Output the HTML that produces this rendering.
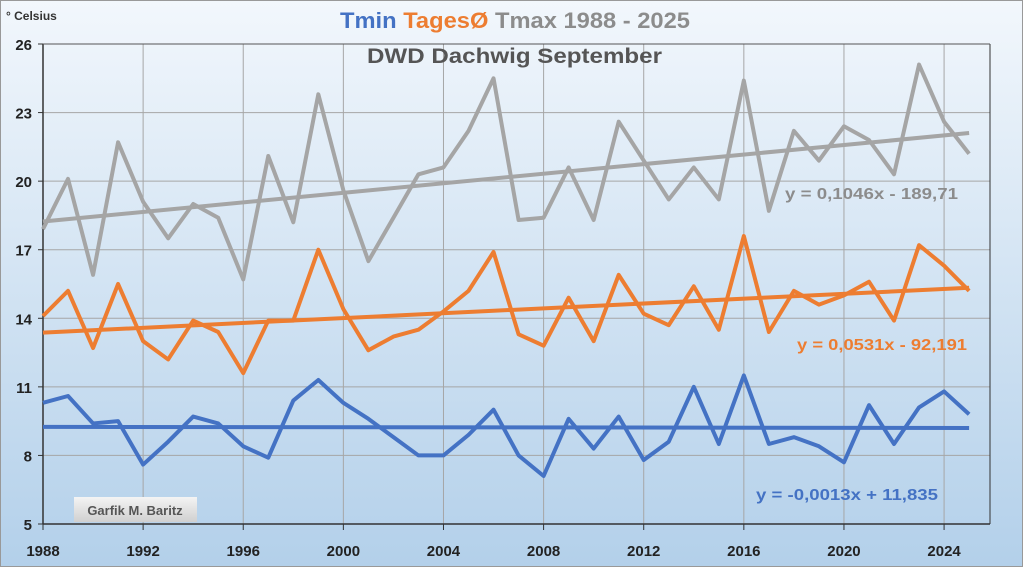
<!DOCTYPE html>
<html><head><meta charset="utf-8"><style>
body{margin:0;width:1023px;height:567px;overflow:hidden;font-family:"Liberation Sans",sans-serif}
</style></head><body>
<svg width="1023" height="567" xmlns="http://www.w3.org/2000/svg">
<defs><linearGradient id="bg" x1="0" y1="0" x2="0" y2="1"><stop offset="0" stop-color="#f2f7fc"/><stop offset="1" stop-color="#b3d0ea"/></linearGradient>
<linearGradient id="gb" x1="0" y1="0" x2="0" y2="1"><stop offset="0" stop-color="#f4f4f4"/><stop offset="1" stop-color="#d0d0d0"/></linearGradient></defs>
<rect x="0.5" y="0.5" width="1022" height="566" fill="url(#bg)" stroke="#999"/>
<g id="grid"></g>
<g id="series"></g>
<text x="6" y="20" font-size="12" font-weight="bold" fill="#333">° Celsius</text>
<text x="340" y="28" font-size="22" font-weight="bold" textLength="350" lengthAdjust="spacingAndGlyphs"><tspan fill="#4472c4">Tmin </tspan><tspan fill="#ed7d31">TagesØ </tspan><tspan fill="#8c8c8c">Tmax 1988 - 2025</tspan></text>
<text x="367" y="63" font-size="21" font-weight="bold" fill="#555" textLength="295" lengthAdjust="spacingAndGlyphs">DWD Dachwig September</text>
<text x="785" y="199" font-size="16" font-weight="bold" fill="#8c8c8c" textLength="173" lengthAdjust="spacingAndGlyphs">y = 0,1046x - 189,71</text>
<text x="797" y="350" font-size="16" font-weight="bold" fill="#ed7d31" textLength="170" lengthAdjust="spacingAndGlyphs">y = 0,0531x - 92,191</text>
<text x="756" y="500" font-size="16" font-weight="bold" fill="#4472c4" textLength="182" lengthAdjust="spacingAndGlyphs">y = -0,0013x + 11,835</text>
<rect x="74" y="497" width="123" height="25" fill="url(#gb)"/>
<text x="135" y="515" text-anchor="middle" font-size="13" font-weight="bold" fill="#555">Garfik M. Baritz</text>
</svg>
<script>
const years=[];for(let y=1988;y<=2025;y++)years.push(y);
const tmax=[17.9,20.1,15.9,21.7,19.1,17.5,19.0,18.4,15.7,21.1,18.2,23.8,19.6,16.5,18.4,20.3,20.6,22.2,24.5,18.3,18.4,20.6,18.3,22.6,20.9,19.2,20.6,19.2,24.4,18.7,22.2,20.9,22.4,21.8,20.3,25.1,22.6,21.2];
const tmean=[14.1,15.2,12.7,15.5,13.0,12.2,13.9,13.4,11.6,13.9,13.9,17.0,14.4,12.6,13.2,13.5,14.3,15.2,16.9,13.3,12.8,14.9,13.0,15.9,14.2,13.7,15.4,13.5,17.6,13.4,15.2,14.6,15.0,15.6,13.9,17.2,16.3,15.2];
const tmin=[10.3,10.6,9.4,9.5,7.6,8.6,9.7,9.4,8.4,7.9,10.4,11.3,10.3,9.6,8.8,8.0,8.0,8.9,10.0,8.0,7.1,9.6,8.3,9.7,7.8,8.6,11.0,8.5,11.5,8.5,8.8,8.4,7.7,10.2,8.5,10.1,10.8,9.8];
const trendMax=[0.1046,-189.71];
const trendMean=[0.0531,-92.191];
const trendMin=[-0.0013,11.835];
const yTicks=[5,8,11,14,17,20,23,26];
const xTicks=[1988,1992,1996,2000,2004,2008,2012,2016,2020,2024];
const NS="http://www.w3.org/2000/svg";
const X=y=>43+(y-1988)*25.03, Y=v=>524-(v-5)*22.857;
const L=990;
function mk(t,a,p){const e=document.createElementNS(NS,t);for(const k in a)e.setAttribute(k,a[k]);p.appendChild(e);return e;}
const g=document.getElementById('grid'), s=document.getElementById('series');
yTicks.forEach(v=>{
 const l=mk('line',{x1:43,x2:L,y1:Y(v),y2:Y(v),stroke:'#a6a6a6','stroke-width':1},g);
 
 
 mk('line',{x1:38,x2:43,y1:Y(v),y2:Y(v),stroke:'#333'},g);
 const t=mk('text',{x:32,y:Y(v)+6,'text-anchor':'end','font-size':15,'font-weight':'bold',fill:'#222'},g);
 t.textContent=v;
 
 
});
xTicks.forEach(yr=>{
 const l=mk('line',{x1:X(yr),x2:X(yr),y1:44,y2:524,stroke:'#a6a6a6','stroke-width':1},g);
 
 
 mk('line',{x1:X(yr),x2:X(yr),y1:524,y2:530,stroke:'#333'},g);
 const t=mk('text',{x:X(yr),y:556,'text-anchor':'middle','font-size':15,'font-weight':'bold',fill:'#222'},g);
 t.textContent=yr;
 
 
});
mk('line',{x1:43,x2:43,y1:44,y2:524,stroke:'#333','stroke-width':1.5},g);
mk('line',{x1:43,x2:L,y1:524,y2:524,stroke:'#333','stroke-width':1.5},g);
mk('line',{x1:L,x2:L,y1:44,y2:524,stroke:'#333','stroke-width':1},g);
mk('line',{x1:43,x2:L,y1:44,y2:44,stroke:'#555','stroke-width':1},g);
function series(data,col,name){
 const p=mk('polyline',{points:data.map((v,i)=>X(years[i])+','+Y(v)).join(' '),fill:'none',stroke:col,'stroke-width':4,'stroke-linejoin':'round'},s);
 
 
}
function trend(c,col,name){
 const a=years[0],b=years[years.length-1];
 const l=mk('line',{x1:X(a),y1:Y(c[0]*a+c[1]),x2:X(b),y2:Y(c[0]*b+c[1]),stroke:col,'stroke-width':4},s);
 
 
}
series(tmax,'#a5a5a5','tmax-line');trend(trendMax,'#a5a5a5','tmax-trendline');
series(tmean,'#ed7d31','tmean-line');trend(trendMean,'#ed7d31','tmean-trendline');
series(tmin,'#4472c4','tmin-line');trend(trendMin,'#4472c4','tmin-trendline');
</script>
</body></html>
